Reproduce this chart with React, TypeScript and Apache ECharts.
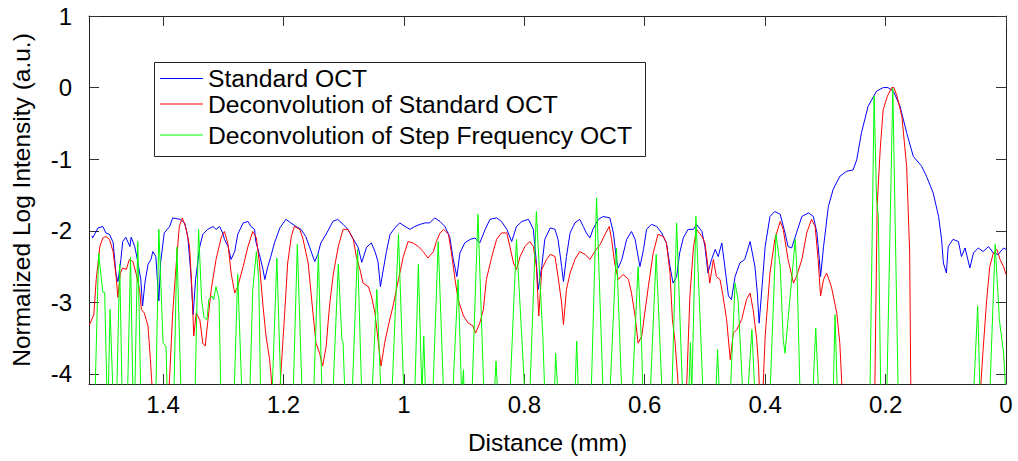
import React, { useEffect, useRef } from "react";
import * as echarts from "echarts";

// x ticks (mm) and y ticks (log intensity)
const xTicks = [0, 0.2, 0.4, 0.6, 0.8, 1, 1.2, 1.4];
const yTicks = [-4, -3, -2, -1, 0, 1];
const seriesNames = [
  "Standard OCT",
  "Deconvolution of Standard OCT",
  "Deconvolution of Step Frequency OCT",
];

// [distance (mm), normalized log intensity]
const standardOCT = [
  [1.518,-2.07],[1.517,-2.10],[1.508,-1.96],[1.500,-1.94],[1.495,-2.03],[1.489,-2.05],[1.483,-2.16],[1.478,-2.61],[1.475,-2.71],[1.470,-2.40],[1.467,-2.15],[1.462,-2.09],[1.455,-2.22],[1.453,-2.09],[1.447,-2.22],[1.442,-2.43],[1.437,-2.68],[1.434,-3.05],[1.430,-2.72],[1.425,-2.47],[1.420,-2.40],[1.417,-2.29],[1.412,-2.36],[1.407,-2.98],[1.404,-2.44],[1.398,-2.03],[1.389,-1.94],[1.384,-1.82],[1.372,-1.84],[1.364,-1.89],[1.359,-2.08],[1.354,-2.58],[1.350,-3.17],[1.346,-2.68],[1.339,-2.22],[1.334,-2.05],[1.326,-1.98],[1.317,-1.94],[1.312,-1.98],[1.306,-1.94],[1.301,-2.03],[1.298,-2.12],[1.292,-2.22],[1.287,-2.40],[1.281,-2.29],[1.276,-2.05],[1.267,-1.89],[1.259,-1.87],[1.254,-1.94],[1.248,-1.98],[1.246,-2.15],[1.240,-2.33],[1.234,-2.54],[1.231,-2.68],[1.226,-2.50],[1.221,-2.36],[1.215,-2.17],[1.206,-1.96],[1.196,-1.84],[1.188,-1.89],[1.179,-1.94],[1.171,-1.98],[1.163,-2.08],[1.157,-2.22],[1.148,-2.43],[1.143,-2.33],[1.138,-2.17],[1.128,-2.03],[1.118,-1.87],[1.110,-1.84],[1.101,-1.91],[1.093,-1.98],[1.085,-2.10],[1.076,-2.23],[1.070,-2.44],[1.062,-2.23],[1.054,-2.17],[1.048,-2.29],[1.043,-2.43],[1.039,-2.78],[1.035,-2.58],[1.029,-2.29],[1.023,-2.05],[1.015,-1.96],[1.007,-1.89],[0.998,-1.94],[0.990,-1.98],[0.982,-1.94],[0.973,-1.91],[0.965,-1.89],[0.957,-1.89],[0.949,-1.82],[0.940,-1.87],[0.932,-1.94],[0.924,-2.08],[0.918,-2.40],[0.912,-2.64],[0.907,-2.31],[0.899,-2.17],[0.890,-2.12],[0.882,-2.10],[0.874,-2.17],[0.865,-1.98],[0.857,-1.84],[0.846,-1.82],[0.838,-1.87],[0.829,-1.98],[0.821,-2.15],[0.813,-1.94],[0.804,-1.87],[0.793,-1.84],[0.785,-1.98],[0.780,-2.44],[0.777,-2.82],[0.771,-2.50],[0.766,-2.12],[0.757,-1.96],[0.749,-1.98],[0.744,-2.12],[0.738,-2.50],[0.735,-2.71],[0.730,-2.36],[0.724,-2.03],[0.716,-1.89],[0.708,-1.84],[0.702,-1.94],[0.697,-2.03],[0.691,-2.10],[0.686,-1.98],[0.677,-1.84],[0.669,-1.80],[0.658,-1.82],[0.652,-2.03],[0.647,-2.40],[0.644,-2.52],[0.638,-2.40],[0.630,-2.12],[0.622,-2.01],[0.616,-2.12],[0.611,-2.36],[0.608,-2.50],[0.602,-2.26],[0.597,-1.98],[0.589,-1.91],[0.580,-1.94],[0.572,-2.03],[0.564,-2.17],[0.558,-2.50],[0.553,-2.73],[0.547,-2.64],[0.542,-2.31],[0.536,-2.10],[0.528,-1.98],[0.519,-1.98],[0.514,-1.91],[0.505,-2.01],[0.500,-2.22],[0.495,-2.59],[0.489,-2.40],[0.483,-2.26],[0.478,-2.36],[0.472,-2.17],[0.467,-2.50],[0.461,-2.91],[0.456,-2.96],[0.450,-2.64],[0.442,-2.45],[0.434,-2.40],[0.425,-2.15],[0.417,-2.50],[0.413,-2.87],[0.410,-3.29],[0.406,-2.87],[0.400,-2.22],[0.392,-1.80],[0.384,-1.73],[0.375,-1.77],[0.367,-2.03],[0.362,-2.22],[0.356,-2.24],[0.348,-2.03],[0.339,-1.80],[0.328,-1.75],[0.320,-1.80],[0.314,-2.03],[0.310,-2.40],[0.308,-2.64],[0.303,-2.22],[0.295,-1.66],[0.287,-1.42],[0.276,-1.24],[0.265,-1.17],[0.254,-1.15],[0.248,-1.01],[0.240,-0.63],[0.229,-0.26],[0.215,-0.05],[0.204,0.0],[0.196,0.0],[0.187,-0.05],[0.176,-0.26],[0.165,-0.63],[0.154,-0.96],[0.140,-1.10],[0.132,-1.24],[0.121,-1.47],[0.112,-1.80],[0.107,-2.12],[0.104,-2.45],[0.099,-2.59],[0.096,-2.22],[0.088,-2.12],[0.079,-2.15],[0.074,-2.36],[0.068,-2.24],[0.060,-2.52],[0.054,-2.31],[0.046,-2.24],[0.038,-2.29],[0.029,-2.22],[0.021,-2.31],[0.013,-2.33],[0.004,-2.24],[0.000,-2.26],
];

const deconvStandard = [
  [1.522,-3.31],[1.515,-3.17],[1.511,-2.68],[1.505,-2.22],[1.500,-2.10],[1.495,-2.08],[1.489,-2.12],[1.483,-2.29],[1.478,-2.64],[1.475,-2.93],[1.471,-2.59],[1.467,-2.52],[1.461,-2.54],[1.456,-2.40],[1.450,-2.43],[1.445,-2.59],[1.439,-2.82],[1.436,-3.10],[1.431,-3.15],[1.425,-3.33],[1.421,-3.80],[1.419,-4.08],[1.417,-4.3],[1.391,-4.3],[1.389,-4.03],[1.384,-3.15],[1.378,-2.45],[1.373,-1.94],[1.368,-1.82],[1.362,-1.96],[1.356,-2.22],[1.352,-2.82],[1.349,-3.47],[1.345,-3.15],[1.339,-3.24],[1.334,-3.57],[1.330,-3.61],[1.326,-3.29],[1.320,-2.82],[1.312,-2.40],[1.303,-2.08],[1.298,-2.01],[1.292,-2.19],[1.287,-2.59],[1.281,-2.87],[1.276,-2.78],[1.267,-2.50],[1.259,-2.22],[1.251,-2.01],[1.245,-2.10],[1.240,-2.45],[1.234,-3.05],[1.229,-3.47],[1.223,-3.80],[1.220,-4.08],[1.219,-4.3],[1.206,-4.3],[1.205,-4.08],[1.198,-3.15],[1.193,-2.45],[1.187,-2.08],[1.182,-1.94],[1.173,-1.98],[1.168,-2.10],[1.159,-2.45],[1.151,-3.15],[1.146,-3.57],[1.140,-3.71],[1.135,-3.89],[1.129,-3.61],[1.126,-3.29],[1.123,-3.01],[1.117,-2.59],[1.109,-2.22],[1.101,-1.98],[1.093,-1.98],[1.084,-2.12],[1.079,-2.36],[1.073,-2.54],[1.068,-2.73],[1.059,-2.78],[1.054,-2.91],[1.048,-3.15],[1.043,-3.52],[1.038,-3.89],[1.032,-3.57],[1.026,-3.33],[1.018,-3.05],[1.009,-2.68],[1.001,-2.36],[0.993,-2.15],[0.985,-2.17],[0.976,-2.22],[0.968,-2.29],[0.960,-2.38],[0.951,-2.29],[0.946,-2.15],[0.940,-2.03],[0.934,-1.98],[0.926,-2.05],[0.921,-2.31],[0.915,-2.68],[0.910,-2.96],[0.901,-3.19],[0.893,-3.29],[0.885,-3.33],[0.881,-3.43],[0.874,-3.29],[0.868,-3.10],[0.863,-2.68],[0.854,-2.36],[0.846,-2.12],[0.838,-2.03],[0.829,-2.03],[0.824,-2.22],[0.818,-2.45],[0.813,-2.54],[0.807,-2.36],[0.799,-2.22],[0.791,-2.15],[0.785,-2.22],[0.780,-2.50],[0.776,-3.19],[0.771,-2.54],[0.763,-2.40],[0.757,-2.33],[0.749,-2.36],[0.744,-2.64],[0.738,-3.01],[0.735,-3.31],[0.730,-2.82],[0.724,-2.59],[0.716,-2.40],[0.708,-2.29],[0.699,-2.33],[0.691,-2.40],[0.683,-2.29],[0.674,-2.19],[0.666,-2.05],[0.659,-1.94],[0.655,-2.12],[0.650,-2.45],[0.644,-2.68],[0.636,-2.61],[0.627,-2.68],[0.622,-2.87],[0.616,-3.19],[0.611,-3.57],[0.605,-3.47],[0.600,-3.15],[0.594,-2.78],[0.586,-2.31],[0.578,-2.05],[0.569,-2.08],[0.564,-2.17],[0.558,-2.59],[0.554,-3.24],[0.550,-3.52],[0.545,-4.08],[0.544,-4.3],[0.532,-4.3],[0.530,-4.08],[0.525,-2.91],[0.519,-2.22],[0.514,-1.98],[0.505,-2.08],[0.500,-2.17],[0.495,-2.50],[0.492,-2.73],[0.486,-2.40],[0.481,-2.64],[0.475,-2.68],[0.470,-2.91],[0.464,-3.24],[0.458,-3.80],[0.453,-3.43],[0.447,-3.38],[0.439,-3.24],[0.431,-2.96],[0.425,-2.87],[0.420,-3.10],[0.414,-3.52],[0.411,-3.89],[0.409,-4.3],[0.404,-4.3],[0.400,-3.47],[0.392,-2.59],[0.384,-2.12],[0.375,-1.87],[0.370,-1.98],[0.362,-2.40],[0.353,-2.73],[0.348,-2.64],[0.339,-2.40],[0.331,-2.03],[0.323,-1.84],[0.317,-1.94],[0.312,-2.40],[0.308,-2.91],[0.303,-2.68],[0.298,-2.59],[0.290,-2.78],[0.281,-3.15],[0.276,-3.57],[0.273,-4.08],[0.272,-4.3],[0.218,-4.3],[0.214,-1.66],[0.209,-0.87],[0.204,-0.31],[0.197,-0.12],[0.190,0.0],[0.186,0.0],[0.181,-0.12],[0.173,-0.40],[0.165,-1.10],[0.160,-2.30],[0.158,-4.3],[0.043,-4.3],[0.038,-3.66],[0.032,-2.96],[0.027,-2.50],[0.021,-2.31],[0.015,-2.26],[0.010,-2.40],[0.004,-2.50],[0.000,-2.61],
];

const deconvStepFreq = [
  [1.522,-4.3],[1.513,-4.3],[1.507,-2.31],[1.503,-2.63],[1.500,-2.86],[1.497,-2.86],[1.493,-4.3],[1.491,-4.3],[1.488,-3.10],[1.483,-4.3],[1.477,-4.3],[1.472,-2.47],[1.468,-4.3],[1.459,-4.3],[1.454,-2.37],[1.450,-4.3],[1.447,-4.3],[1.442,-2.15],[1.437,-4.3],[1.412,-4.3],[1.407,-1.98],[1.400,-3.56],[1.395,-3.62],[1.393,-4.3],[1.382,-4.3],[1.377,-2.23],[1.370,-4.3],[1.347,-4.3],[1.341,-1.98],[1.336,-2.96],[1.332,-3.21],[1.327,-3.24],[1.324,-2.96],[1.319,-2.91],[1.316,-2.96],[1.312,-2.78],[1.307,-2.96],[1.304,-4.3],[1.282,-4.3],[1.276,-2.61],[1.269,-4.3],[1.256,-4.3],[1.251,-2.82],[1.245,-2.29],[1.241,-2.68],[1.238,-4.3],[1.219,-4.3],[1.211,-2.38],[1.204,-4.3],[1.184,-4.3],[1.177,-2.19],[1.169,-4.3],[1.150,-4.3],[1.142,-2.33],[1.136,-4.3],[1.118,-4.3],[1.109,-2.47],[1.103,-3.52],[1.101,-3.56],[1.098,-4.3],[1.086,-4.3],[1.077,-2.26],[1.070,-4.3],[1.053,-4.3],[1.045,-2.82],[1.038,-4.3],[1.020,-4.3],[1.009,-2.05],[1.000,-4.3],[0.982,-4.3],[0.976,-2.47],[0.970,-4.3],[0.967,-3.47],[0.964,-4.3],[0.952,-4.3],[0.943,-2.15],[0.934,-4.3],[0.919,-4.3],[0.910,-2.68],[0.904,-4.3],[0.901,-3.94],[0.900,-4.3],[0.887,-4.3],[0.877,-1.77],[0.867,-4.3],[0.850,-4.3],[0.847,-3.82],[0.844,-4.3],[0.824,-4.3],[0.813,-2.12],[0.799,-4.3],[0.791,-4.3],[0.780,-1.73],[0.769,-3.52],[0.766,-4.3],[0.750,-4.3],[0.748,-3.71],[0.744,-4.3],[0.716,-4.3],[0.713,-3.54],[0.710,-4.3],[0.689,-4.3],[0.680,-1.54],[0.669,-4.3],[0.658,-4.3],[0.647,-2.24],[0.638,-4.3],[0.621,-4.3],[0.611,-2.50],[0.605,-3.66],[0.603,-4.3],[0.591,-4.3],[0.581,-2.33],[0.571,-4.3],[0.555,-4.3],[0.547,-1.89],[0.537,-4.3],[0.527,-4.3],[0.524,-3.56],[0.522,-4.3],[0.515,-1.80],[0.503,-4.3],[0.482,-4.3],[0.479,-3.66],[0.476,-4.3],[0.458,-4.3],[0.450,-2.73],[0.445,-2.96],[0.437,-4.3],[0.429,-4.3],[0.422,-3.38],[0.417,-4.3],[0.392,-4.3],[0.382,-2.05],[0.375,-2.50],[0.370,-3.52],[0.367,-3.71],[0.359,-2.96],[0.350,-2.12],[0.347,-2.59],[0.342,-4.3],[0.321,-4.3],[0.316,-3.36],[0.311,-4.3],[0.287,-4.3],[0.284,-3.17],[0.280,-4.3],[0.226,-4.3],[0.219,-0.12],[0.215,-1.56],[0.212,-1.80],[0.208,-4.3],[0.198,-4.3],[0.188,-0.01],[0.179,-4.3],[0.054,-4.3],[0.047,-3.05],[0.043,-4.3],[0.027,-4.3],[0.018,-2.19],[0.011,-3.24],[0.004,-3.71],[0.000,-4.3],
];

const seriesColors = ["#0000ff", "#ff0000", "#00ff00"];
const seriesData = [standardOCT, deconvStandard, deconvStepFreq];

const FONT = "'Liberation Sans', Arial, Helvetica, sans-serif";
const X_MIN = 0;
const X_MAX = 1.523;
const Y_MIN = -4.14;
const Y_MAX = 1;

export default function App() {
  const ref = useRef<HTMLDivElement>(null);

  useEffect(() => {
    if (!ref.current) return;
    const chart = echarts.init(ref.current, undefined, { renderer: "svg" });

    const tickStyle = { show: true, inside: true, length: 10, lineStyle: { color: "#333", width: 1 } };
    const lineStyleAxis = { show: true, onZero: false, lineStyle: { color: "#222", width: 1 } };

    const xCommon = {
      type: "value" as const,
      min: X_MIN,
      max: X_MAX,
      inverse: true,
      splitLine: { show: false },
      axisLine: lineStyleAxis,
    };
    const yCommon = {
      type: "value" as const,
      min: Y_MIN,
      max: Y_MAX,
      splitLine: { show: false },
      axisLine: lineStyleAxis,
    };

    const legendTops = [66, 91.5, 122.5];

    chart.setOption({
      animation: false,
      backgroundColor: "#fff",
      textStyle: { fontFamily: FONT },
      grid: { left: 89, right: 12, top: 16, bottom: 77, containLabel: false, outerBoundsMode: "none" },
      xAxis: [
        {
          ...xCommon,
          position: "bottom",
          name: "Distance (mm)",
          nameLocation: "middle",
          nameGap: 46,
          nameTextStyle: { fontSize: 24.5, color: "#000", fontFamily: FONT },
          axisTick: { ...tickStyle, customValues: xTicks },
          axisLabel: {
            customValues: xTicks,
            fontSize: 24,
            color: "#000",
            margin: 8,
            fontFamily: FONT,
            formatter: (v: number) => String(+v.toFixed(1)),
          },
        },
        {
          ...xCommon,
          position: "top",
          axisTick: { ...tickStyle, customValues: xTicks },
          axisLabel: { show: false },
        },
      ],
      yAxis: [
        {
          ...yCommon,
          position: "left",
          name: "Normalized Log Intensity (a.u.)",
          nameLocation: "middle",
          nameGap: 55,
          nameTextStyle: { fontSize: 24.5, color: "#000", fontFamily: FONT },
          axisTick: { ...tickStyle, customValues: yTicks },
          axisLabel: {
            customValues: yTicks,
            fontSize: 24,
            color: "#000",
            margin: 17,
            fontFamily: FONT,
            formatter: (v: number) => String(Math.round(v)),
          },
        },
        {
          ...yCommon,
          position: "right",
          axisTick: { ...tickStyle, customValues: yTicks },
          axisLabel: { show: false },
        },
      ],
      legend: seriesNames.map((n, i) => ({
        data: [{ name: n, icon: "rect", itemStyle: { color: seriesColors[i] } }],
        orient: "vertical",
        left: 160,
        top: legendTops[i],
        padding: 0,
        itemWidth: 43,
        itemHeight: 1.2,
        selectedMode: false,
        textStyle: { fontSize: 24.7, color: "#000", fontFamily: FONT },
      })),
      graphic: [
        {
          type: "rect",
          left: 152,
          top: 60,
          shape: { width: 491, height: 94 },
          style: { fill: "none", stroke: "#222", lineWidth: 1 },
          z: 10,
        },
      ],
      series: seriesNames.map((n, i) => ({
        name: n,
        type: "line",
        data: seriesData[i],
        symbol: "none",
        showSymbol: false,
        clip: true,
        lineStyle: { color: seriesColors[i], width: 1 },
        itemStyle: { color: seriesColors[i] },
      })),
    });

    return () => chart.dispose();
  }, []);

  return (
    <div
      ref={ref}
      style={{ position: "fixed", left: 0, top: 0, width: 1018, height: 461, background: "#fff" }}
    />
  );
}
